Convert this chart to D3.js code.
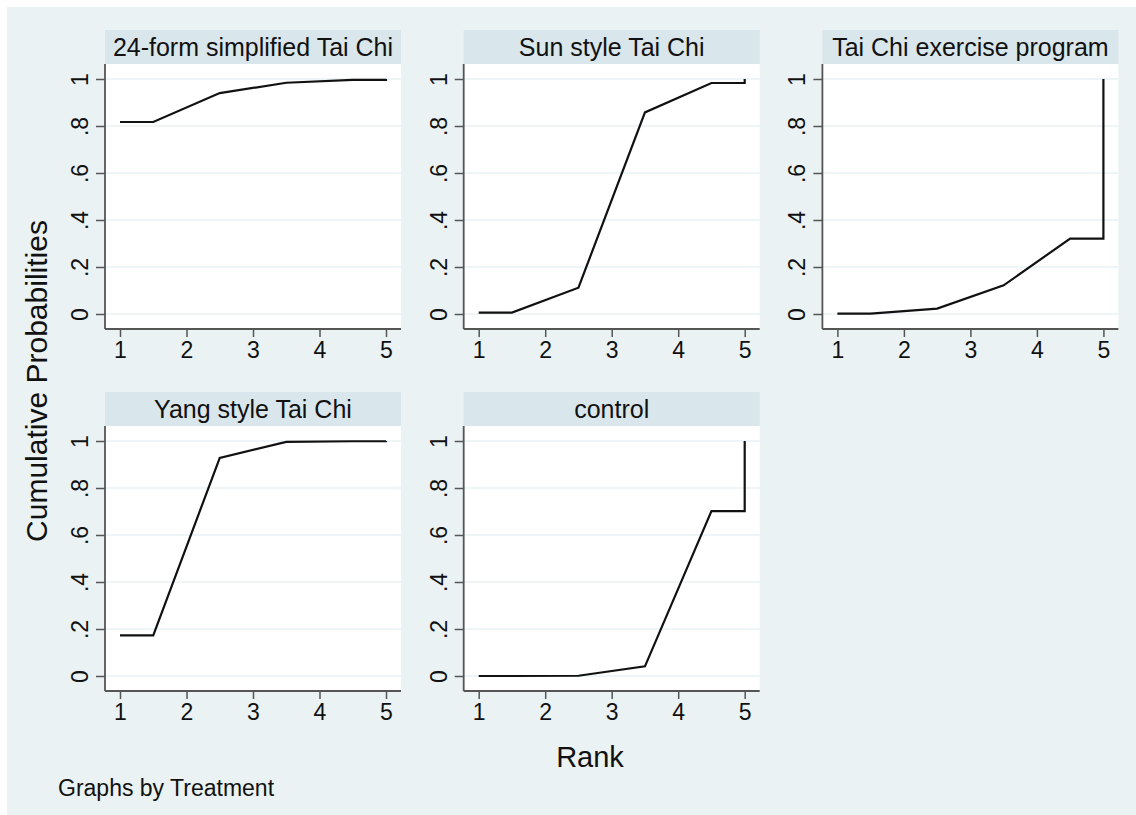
<!DOCTYPE html>
<html>
<head>
<meta charset="utf-8">
<script src="https://cdn.jsdelivr.net/npm/d3@7"></script>
<style>
  body { margin: 0; background: #ffffff; }
  text { font-family: "Liberation Sans", Arial, sans-serif; fill: #111; }
</style>
</head>
<body>
<div id="chart"></div>
<script>
// treatments (one panel each)
const treatments = ["24-form simplified Tai Chi", "Sun style Tai Chi", "Tai Chi exercise program", "Yang style Tai Chi", "control"];

// cumulative probability of being ranked <= 1..4 (rank 5 is always 1)
const cum24form = [0.817, 0.940, 0.984, 0.996];
const cumSun = [0.006, 0.112, 0.858, 0.983];
const cumExercise = [0.002, 0.023, 0.122, 0.321];
const cumYang = [0.173, 0.928, 0.996, 0.999];
const cumControl = [0.000, 0.001, 0.041, 0.702];

const seriesList = [cum24form, cumSun, cumExercise, cumYang, cumControl];

const rankTicks = [1, 2, 3, 4, 5];
const probTicks = [0, 0.2, 0.4, 0.6, 0.8, 1];
const probLabels = ["0", ".2", ".4", ".6", ".8", "1"];

// layout
const W = 1136, H = 815;
const panelW = 296, panelH = 265, stripH = 34;
const left0 = 105, top0 = 64, colStep = 358.7, rowStep = 362;

let svg = d3.select("#chart").append("svg").attr("width", W).attr("height", H);

// graph region background
svg.append("rect").attr("x", 7).attr("y", 7).attr("width", W - 7).attr("height", H - 7).attr("fill", "#eaf2f3");

// scales are the same for every panel
var x = d3.scaleLinear().domain([1, 5]).range([15, panelW - 15]);
var y = d3.scaleLinear().domain([0, 1]).range([panelH - 15, 15]);

// turn cum probs into the plotted path: flat to 1.5, midpoints, flat to 5, jump to 1
function toPoints(c) {
    let pts = [{ r: 1, p: c[0] }, { r: 1.5, p: c[0] }];
    for (let i = 1; i < c.length; i++) pts.push({ r: i + 1.5, p: c[i] });
    pts.push({ r: 5, p: c[c.length - 1] });
    pts.push({ r: 5, p: 1 });
    return pts;
}

var lineFunc = d3.line()
    .x(function (d) { return x(d.r) })
    .y(function (d) { return y(d.p) })

treatments.forEach(function (name, i) {
    let col = i % 3, row = Math.floor(i / 3);
    let g = svg.append("g").attr("transform", `translate(${left0 + col * colStep},${top0 + row * rowStep})`);

    // plot region + strip
    g.append("rect").attr("width", panelW).attr("height", panelH).attr("fill", "#ffffff");
    g.append("rect").attr("y", -stripH).attr("width", panelW).attr("height", stripH).attr("fill", "#d9e6eb");
    g.append("text").attr("x", panelW / 2).attr("y", -stripH / 2).attr("dy", "0.35em")
        .attr("text-anchor", "middle").style("font-size", "25px").text(name);

    // grid lines
    g.selectAll(".grid").data(probTicks).enter().append("line")
        .attr("x1", 0).attr("x2", panelW)
        .attr("y1", d => y(d)).attr("y2", d => y(d))
        .attr("stroke", "#eaf2f3").attr("stroke-width", 1.5);

    // y axis
    let ya = g.append("g").call(d3.axisLeft(y).tickValues(probTicks).tickSize(9).tickSizeOuter(0)
        .tickFormat((d, k) => probLabels[k]));
    ya.select(".domain").remove();
    ya.selectAll(".tick line").attr("stroke", "#555").attr("stroke-width", 1.5);
    ya.selectAll(".tick text")
        .attr("x", null).attr("dy", "0.35em")
        .attr("transform", "translate(-25,0) rotate(-90)")
        .attr("text-anchor", "middle")
        .style("font-size", "23px").style("font-family", "Liberation Sans, Arial, sans-serif").attr("fill", "#111");

    // x axis
    let xa = g.append("g").attr("transform", `translate(0,${panelH})`)
        .call(d3.axisBottom(x).tickValues(rankTicks).tickFormat(d3.format("d")).tickSize(8).tickPadding(5).tickSizeOuter(0));
    xa.select(".domain").remove();
    xa.selectAll(".tick line").attr("stroke", "#555").attr("stroke-width", 1.5);
    xa.selectAll(".tick text").style("font-size", "23px").style("font-family", "Liberation Sans, Arial, sans-serif").attr("fill", "#111");

    // axis lines along the plot region edges
    g.append("line").attr("x1", 0).attr("x2", 0).attr("y1", 0).attr("y2", panelH).attr("stroke", "#555").attr("stroke-width", 1.8);
    g.append("line").attr("x1", 0).attr("x2", panelW).attr("y1", panelH).attr("y2", panelH).attr("stroke", "#555").attr("stroke-width", 1.8);

    // the curve
    g.append("path")
        .attr("d", lineFunc(toPoints(seriesList[i])))
        .attr("stroke", "#111")
        .attr("stroke-width", 2.2)
        .attr("fill", "none");
});

// titles
svg.append("text").attr("transform", "translate(36,381) rotate(-90)").attr("dy", "0.35em")
    .attr("text-anchor", "middle").style("font-size", "30px").text("Cumulative Probabilities");
svg.append("text").attr("x", 590).attr("y", 757).attr("dy", "0.35em")
    .attr("text-anchor", "middle").style("font-size", "29px").text("Rank");
svg.append("text").attr("x", 58).attr("y", 788).attr("dy", "0.35em")
    .style("font-size", "23px").text("Graphs by Treatment");
</script>
</body>
</html>
